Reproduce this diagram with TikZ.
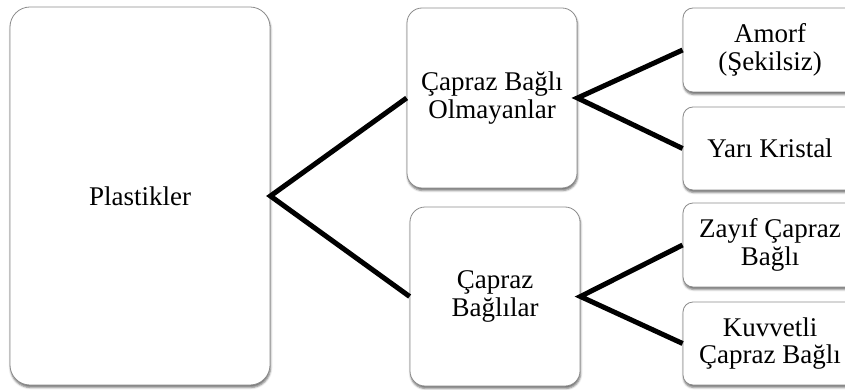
\documentclass[tikz,border=0pt]{standalone}
\usepackage{fontspec}
\setmainfont{Liberation Serif}
\usetikzlibrary{shadows.blur}
\begin{document}
\begin{tikzpicture}[x=1pt,y=-1pt,
  box/.style={draw=black!45, line width=0.8pt, fill=white, rounded corners=#1,
    align=center, inner sep=0pt,
    font=\fontsize{27}{27.5}\selectfont,
    blur shadow={shadow xshift=0.6pt, shadow yshift=-2.5pt,
      shadow blur radius=2pt, shadow opacity=55}},
  box/.default=10pt,
  conn/.style={line width=5pt, black, line join=miter}]
\useasboundingbox (0,0) rectangle (845,390);
\clip (0,0) rectangle (845,390);

% root
\node[box=20pt, minimum width=260pt, minimum height=378pt] (P) at (140,196) {Plastikler};

% second level
\node[box=15pt, minimum width=170pt, minimum height=180pt] (A) at (492,98)
  {Çapraz Bağlı\\Olmayanlar};
\node[box=15pt, minimum width=170pt, minimum height=179pt] (B) at (495,296.5)
  {Çapraz\\Bağlılar};

% third level
\node[box, minimum width=174pt, minimum height=84pt] (C) at (770,50)
  {Amorf\\(Şekilsiz)};
\node[box, minimum width=174pt, minimum height=83pt] (D) at (770,148.5)
  {Yarı Kristal};
\node[box, minimum width=174pt, minimum height=84pt] (E) at (770,245)
  {Zayıf Çapraz\\Bağlı};
\node[box, minimum width=174pt, minimum height=83pt] (F) at (770,343.5)
  {Kuvvetli\\Çapraz Bağlı};

% connectors
\draw[conn] (A.west) -- (P.east) -- (B.west);
\draw[conn] (C.west) -- (A.east) -- (D.west);
\draw[conn] (E.west) -- (B.east) -- (F.west);
\end{tikzpicture}
\end{document}
